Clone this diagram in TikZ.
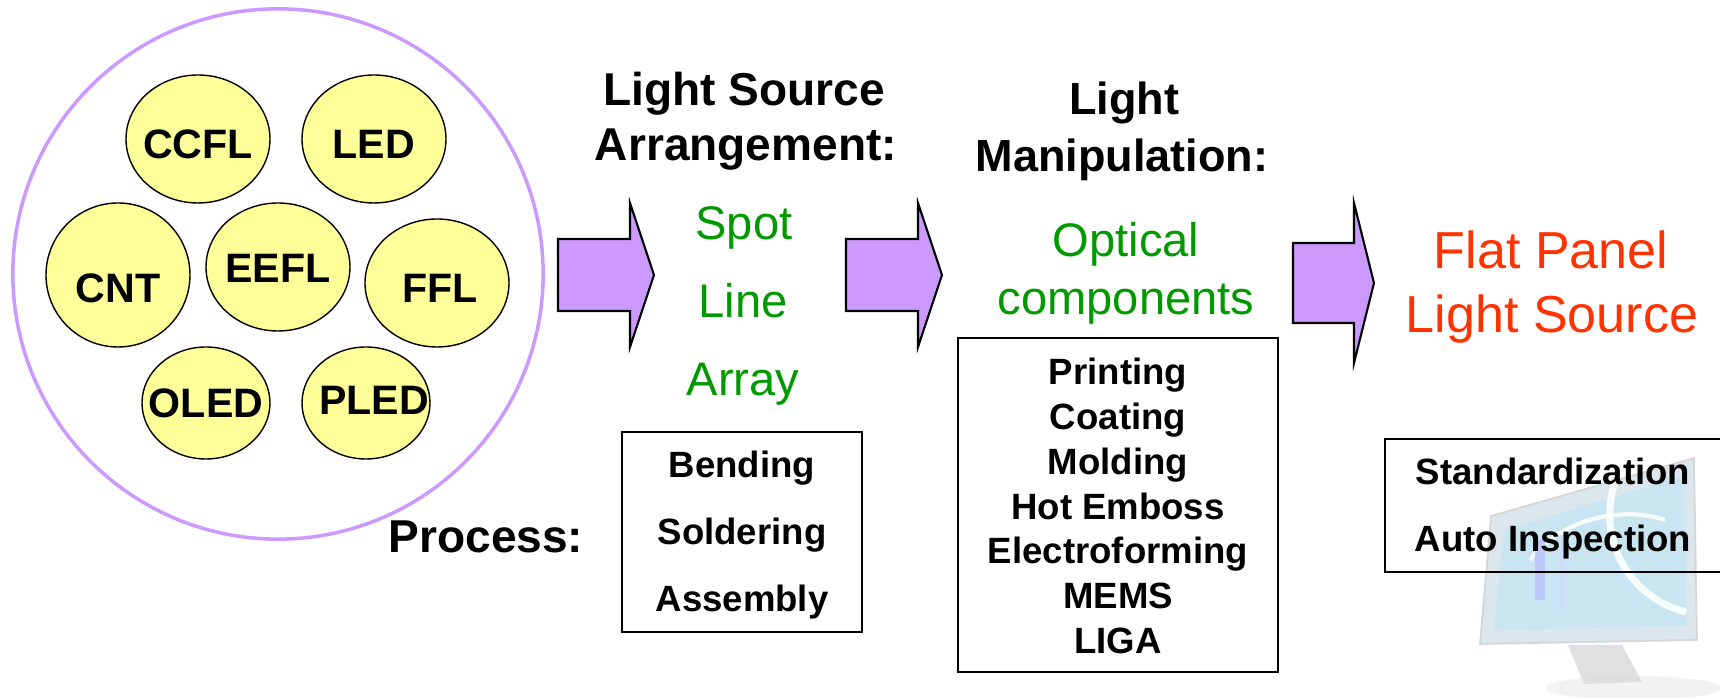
\documentclass[tikz,border=0pt]{standalone}
\usepackage{fontspec}
\setmainfont{Liberation Sans}
\usepackage{tikz}
\usetikzlibrary{shapes.geometric, positioning}

\definecolor{lavender}{HTML}{CC99FF}
\definecolor{lampyellow}{HTML}{FFFF99}
\definecolor{stagegreen}{HTML}{009900}
\definecolor{panelred}{HTML}{FF3300}
\definecolor{bezel}{HTML}{D6E2EA}
\definecolor{glass}{HTML}{C6E5F2}

\begin{document}
\begin{tikzpicture}[x=0.01cm, y=-0.01cm,
    lamp/.style={ellipse, draw, fill=lampyellow, line width=0.4pt, inner sep=0pt},
    lamptxt/.style={font=\bfseries\fontsize{11.7}{13}\selectfont},
    head/.style={font=\bfseries\fontsize{13.1}{15}\selectfont, anchor=base},
    stage/.style={font=\fontsize{13.4}{15}\selectfont, text=stagegreen, anchor=base},
    goal/.style={font=\fontsize{14.8}{17}\selectfont, text=panelred, anchor=base},
    procbox/.style={draw, line width=0.6pt, inner sep=0pt},
    proctxt/.style={font=\bfseries\fontsize{10.4}{12}\selectfont, anchor=base},
    blockarr/.style={draw, fill=lavender, line width=0.6pt, line join=miter}]

    \useasboundingbox (0,0) rectangle (1720,698);
    \fill[white] (0,0) rectangle (1720,698);

    % Light sources
    \node[circle, draw=lavender, line width=1pt, minimum size=5.30cm] (sources) at (278,274) {};
    \foreach \n/\x/\y/\w/\h/\tx/\ty in {CCFL/198/139/144/128/198/144,
                                        LED/374/139/144/128/374/144,
                                        CNT/118/275/144/144/118/288,
                                        EEFL/278/267/144/128/278/268,
                                        FFL/437/283/144/128/440/288,
                                        OLED/206/403/128/112/206/403,
                                        PLED/366/403/128/112/374/400} {
        \node[lamp, minimum width=\w*0.01cm, minimum height=\h*0.01cm] (\n) at (\x,\y) {};
        \node[lamptxt] (\n-txt) at (\tx,\ty) {\n};
    }

    % Block arrows
    \foreach \a/\b/\c/\m/\s/\h in {558/630/654/275/36/72, 846/918/942/275/36/72, 1293/1354/1374/283/40/80} {
        \draw[blockarr] (\a,\m-\s) -- (\b,\m-\s) -- (\b,\m-\h) -- (\c,\m)
            -- (\b,\m+\h) -- (\b,\m+\s) -- (\a,\m+\s) -- cycle;
    }

    % Light source arrangement
    \node[head] (arr1) at (744,106) {Light Source};
    \node[head] (arr2) at (746,161) {Arrangement:};
    \node[stage] (spot) at (744,240) {Spot};
    \node[stage] (line) at (743,318) {Line};
    \node[stage] (array) at (743,396) {Array};

    % Light manipulation
    \node[head, font=\bfseries\fontsize{12.8}{15}\selectfont] (man1) at (1124,115) {Light};
    \node[head, font=\bfseries\fontsize{12.8}{15}\selectfont] (man2) at (1122,172) {Manipulation:};
    \node[stage] (optical) at (1126,257) {Optical};
    \node[stage] (comps) at (1126,315) {components};

    % Flat panel
    \node[goal] (flat) at (1551,269) {Flat Panel};
    \node[goal] (source) at (1552,333) {Light Source};

    % Monitor
    \begin{scope}[opacity=0.85]
        \fill[gray!12] (1633,688) ellipse (88 and 12);
        \fill[gray!28] (1568,645) -- (1622,645) -- (1642,682) -- (1584,684) -- cycle;
        \filldraw[fill=bezel, draw=gray!35, line width=0.5pt] (1491,516) -- (1694,458) -- (1697,640) -- (1480,644) -- cycle;
        \fill[glass] (1504,530) -- (1684,476) -- (1686,626) -- (1494,630) -- cycle;
        \draw[white, line width=2pt] (1615,482) .. controls (1595,545) and (1635,600) .. (1686,612);
        \draw[white, line width=1.2pt] (1530,560) .. controls (1560,520) and (1620,505) .. (1665,520);
        \fill[glass!60!blue!50] (1535,540) rectangle (1545,600);
        \fill[glass!75!blue!45] (1560,535) rectangle (1566,610);
    \end{scope}

    % Process boxes
    \node[head] (process) at (486,553) {Process:};
    \node[procbox, minimum width=2.40cm, minimum height=2.00cm] (bendbox) at (742,532) {};
    \foreach \t [count=\i] in {Bending, Soldering, Assembly}
        \node[proctxt] (bend\i) at (742,411+67*\i) {\t};

    \node[procbox, minimum width=3.20cm, minimum height=3.34cm] (formbox) at (1118,505) {};
    \foreach \t [count=\i] in {Printing, Coating, Molding, Hot Emboss, Electroforming, MEMS, LIGA}
        \node[proctxt] (form\i) at (1118,340.3+44.7*\i) {\t};

    \node[procbox, minimum width=4.00cm, minimum height=1.33cm] (stdbox) at (1585,505.5) {};
    \node[proctxt] (std1) at (1553,485) {Standardization};
    \node[proctxt] (std2) at (1553,552) {Auto Inspection};
\end{tikzpicture}
\end{document}
